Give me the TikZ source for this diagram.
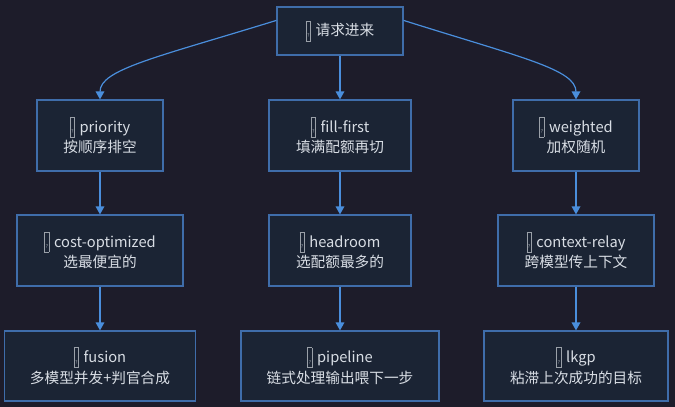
\documentclass[tikz,border=0pt]{standalone}
\usepackage{fontspec}
\setmainfont{Noto Sans CJK SC}
\usetikzlibrary{arrows.meta}
\definecolor{bgc}{HTML}{1D1C2A}
\definecolor{boxfill}{HTML}{1B2434}
\definecolor{boxline}{HTML}{3F6DAA}
\definecolor{edgec}{HTML}{4A8EDC}
\definecolor{txt}{HTML}{D8DDE4}
\definecolor{tofuc}{HTML}{9AA0A8}
\newcommand{\tofu}{{\color{tofuc}\setlength{\fboxsep}{0.5pt}\setlength{\fboxrule}{0.5pt}\raisebox{-3pt}{\fbox{\rule{0pt}{13.5pt}\raisebox{2pt}{\fontsize{4}{4}\selectfont ?}}}}\hspace{3.5pt}}
\tikzset{
  box/.style={draw=boxline, fill=boxfill, line width=0.9pt, text=txt, align=center,
    font=\fontsize{11}{15.5}\selectfont, inner sep=0pt, minimum height=53.25pt},
  edge/.style={draw=edgec, line width=0.9pt, -{Triangle[length=6pt,width=6.5pt]}}
}
\begin{document}
\begin{tikzpicture}[x=0.75pt,y=-0.75pt]
\fill[bgc] (0,0) rectangle (675,407);
\useasboundingbox (0,0) rectangle (675,407);
\node[box, minimum width=94.5pt, minimum height=36pt] (top) at (340,31) {\tofu 请求进来};
\node[box, minimum width=94.5pt] (pri) at (100,135.5) {\tofu priority\\按顺序排空};
\node[box, minimum width=106.5pt] (fill) at (340,135.5) {\tofu fill-first\\填满配额再切};
\node[box, minimum width=94.5pt] (wei) at (576,135.5) {\tofu weighted\\加权随机};
\node[box, minimum width=124.5pt] (cost) at (100,250.5) {\tofu cost-optimized\\选最便宜的};
\node[box, minimum width=106.5pt] (head) at (340,250.5) {\tofu headroom\\选配额最多的};
\node[box, minimum width=117pt] (ctx) at (576,250.5) {\tofu context-relay\\跨模型传上下文};
\node[box, minimum width=143.25pt, minimum height=52.5pt] (fus) at (100,366) {\tofu fusion\\多模型并发+判官合成};
\node[box, minimum width=148.5pt, minimum height=52.5pt] (pipe) at (340,366) {\tofu pipeline\\链式处理输出喂下一步};
\node[box, minimum width=138pt, minimum height=52.5pt] (lkgp) at (576,366) {\tofu lkgp\\粘滞上次成功的目标};
\coordinate (tl) at ([yshift=-10.5pt]top.north west);
\coordinate (tr) at ([yshift=-10.5pt]top.north east);
\draw[edge] (tl) .. controls ([xshift=-90pt,yshift=-27.75pt]tl) and ([yshift=22.5pt]pri.north) .. (pri.north);
\draw[edge] (tr) .. controls ([xshift=88pt,yshift=-27.75pt]tr) and ([yshift=22.5pt]wei.north) .. (wei.north);
\draw[edge] (top.south) -- (fill.north);
\draw[edge] (pri.south) -- (cost.north);
\draw[edge] (fill.south) -- (head.north);
\draw[edge] (wei.south) -- (ctx.north);
\draw[edge] (cost.south) -- (fus.north);
\draw[edge] (head.south) -- (pipe.north);
\draw[edge] (ctx.south) -- (lkgp.north);
\end{tikzpicture}
\end{document}
